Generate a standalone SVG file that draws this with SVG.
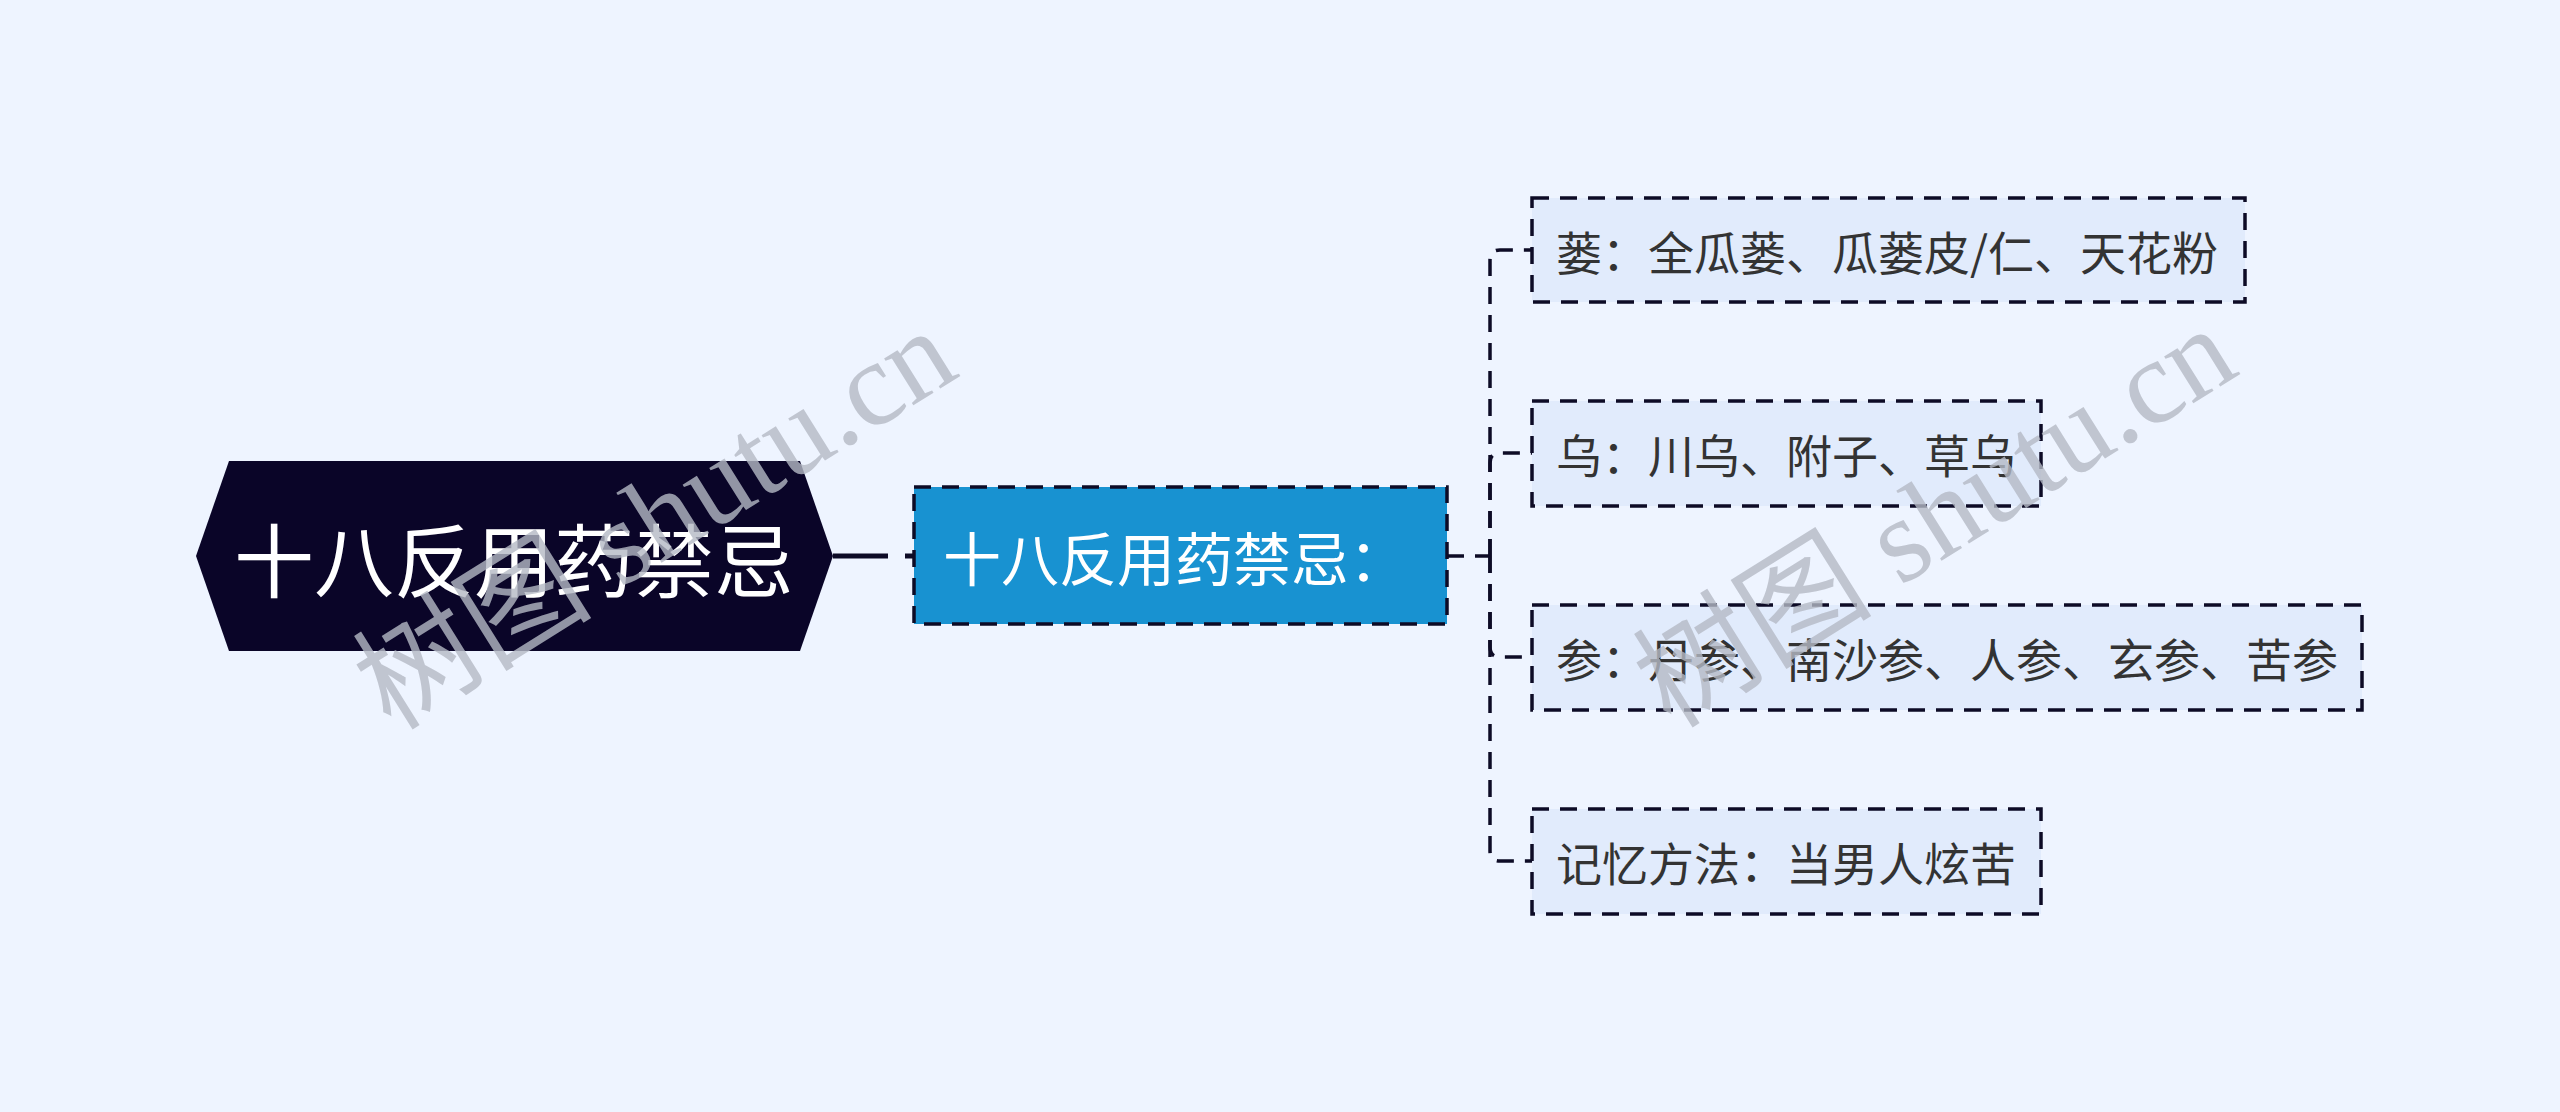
<svg xmlns="http://www.w3.org/2000/svg" width="2560" height="1112" viewBox="0 0 2560 1112">
  <style>
    .cjk { font-family: "Noto Sans CJK SC", "Noto Sans", sans-serif; }
    .leaf rect { fill: #e1ebfc; stroke: #0d0b26; stroke-width: 3.5; stroke-dasharray: 17 11; }
    .leaf text { fill: #333333; font-size: 46px; dominant-baseline: central; }
    .conn { fill: none; stroke: #0d0b26; stroke-width: 3.5; stroke-dasharray: 17 11; }
    .wm { font-family: "Liberation Serif", "Noto Sans CJK SC", serif; font-size: 120px; fill: #b4b9c4; fill-opacity: 0.8; dominant-baseline: central; text-anchor: middle; }
  </style>
  <rect x="0" y="0" width="2560" height="1112" fill="#eef4ff"/>

  <g id="connectors">
    <line x1="833" y1="556" x2="888" y2="556" stroke="#0d0b26" stroke-width="5"/>
    <line x1="905" y1="556" x2="914" y2="556" stroke="#0d0b26" stroke-width="5"/>
    <path class="conn" d="M1447,556 H1490"/>
    <path class="conn" d="M1490,556 V260 Q1490,250 1500,250 H1532"/>
    <path class="conn" d="M1490,556 V463 Q1490,453 1500,453 H1532"/>
    <path class="conn" d="M1490,556 V647 Q1490,657 1500,657 H1532"/>
    <path class="conn" d="M1490,556 V851 Q1490,861 1500,861 H1532"/>
  </g>

  <g id="root">
    <polygon points="196,556 229,461 800,461 833,556 800,651 229,651" fill="#0a0528"/>
    <text class="cjk" x="514" y="556" font-size="80" fill="#ffffff" text-anchor="middle" dominant-baseline="central">十八反用药禁忌</text>
  </g>

  <g id="child">
    <rect x="914" y="487" width="533" height="137" fill="#1892d1" stroke="#0d0b26" stroke-width="3.5" stroke-dasharray="17 11"/>
    <text class="cjk" x="943" y="556" font-size="58" fill="#ffffff" dominant-baseline="central">十八反用药禁忌：</text>
  </g>

  <g id="leaf1" class="leaf">
    <rect x="1532" y="198" width="713" height="104"/>
    <text class="cjk" x="1556" y="250">蒌：全瓜蒌、瓜蒌皮/仁、天花粉</text>
  </g>
  <g id="leaf2" class="leaf">
    <rect x="1532" y="401" width="509" height="105"/>
    <text class="cjk" x="1556" y="453">乌：川乌、附子、草乌</text>
  </g>
  <g id="leaf3" class="leaf">
    <rect x="1532" y="605" width="830" height="105"/>
    <text class="cjk" x="1556" y="657">参：丹参、南沙参、人参、玄参、苦参</text>
  </g>
  <g id="leaf4" class="leaf">
    <rect x="1532" y="809" width="509" height="105"/>
    <text class="cjk" x="1556" y="861">记忆方法：当男人炫苦</text>
  </g>

  <g id="watermarks">
    <text class="wm" transform="translate(655,519) rotate(-32)">树图 shutu.cn</text>
    <text class="wm" transform="translate(1935,517) rotate(-32)">树图 shutu.cn</text>
  </g>
</svg>
